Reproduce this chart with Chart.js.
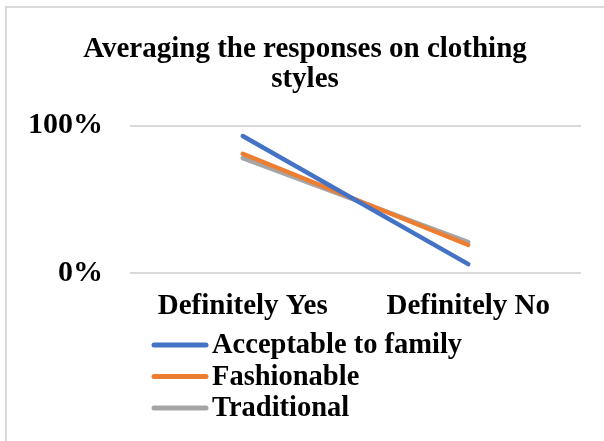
<!DOCTYPE html>
<html>
<head>
<meta charset="utf-8">
<script src="https://cdn.jsdelivr.net/npm/chart.js@4/dist/chart.umd.min.js"></script>
<style>
  html, body { margin: 0; padding: 0; background: #fff; }
  #wrap { position: relative; width: 604px; height: 441px; overflow: hidden; }
  #frame { position: absolute; left: 5px; top: 6px; width: 700px; height: 500px;
           border-left: 2px solid #d9d9d9; border-top: 2px solid #d9d9d9; }
  canvas { position: absolute; left: 0; top: 0; }
</style>
</head>
<body>
<div id="wrap">
  <div id="frame"></div>
  <canvas id="chart" width="604" height="441"></canvas>
</div>
<script>
// Data
const categories = ['Definitely Yes', 'Definitely No'];
const acceptable = [0.93, 0.06];
const fashionable = [0.81, 0.19];
const traditional = [0.78, 0.21];
const yTicks = [0, 1];

const serif = '"Liberation Serif", "Times New Roman", serif';

// draws the legend as a vertical list below the axis
const stackedLegend = {
  id: 'stackedLegend',
  afterLayout(chart) {
    // title is centred on the whole frame, not on the padded box
    if (chart.titleBlock) chart.titleBlock.left = 29;
  },
  afterDraw(chart) {
    const ctx = chart.ctx;
    ctx.save();
    ctx.font = 'bold 28.5px ' + serif;
    ctx.textBaseline = 'middle';
    ctx.fillStyle = '#000';
    chart.data.datasets.forEach((ds, i) => {
      const y = 345 + i * 31.5;
      ctx.strokeStyle = ds.borderColor;
      ctx.lineWidth = 5;
      ctx.lineCap = 'round';
      ctx.beginPath();
      ctx.moveTo(154, y);
      ctx.lineTo(206, y);
      ctx.stroke();
      ctx.fillText(ds.label, 212, y + 1);
    });
    ctx.restore();
  }
};

new Chart(document.getElementById('chart'), {
  type: 'line',
  data: {
    labels: categories,
    datasets: [
      { label: 'Acceptable to family', data: acceptable, borderColor: '#4472C4' },
      { label: 'Fashionable', data: fashionable, borderColor: '#ED7D31' },
      { label: 'Traditional', data: traditional, borderColor: '#A5A5A5' }
    ]
  },
  options: {
    responsive: false,
    animation: false,
    layout: { padding: { left: 0, right: 23, top: 0, bottom: 121 } },
    elements: {
      line: { borderWidth: 4.5, borderCapStyle: 'round', tension: 0 },
      point: { radius: 0 }
    },
    plugins: {
      legend: { display: false },
      tooltip: { enabled: false },
      title: {
        display: true,
        text: ['Averaging the responses on clothing', 'styles'],
        color: '#000',
        font: { family: serif, size: 29, weight: 'bold', lineHeight: 1.03 },
        padding: { top: 35, bottom: 31 }
      }
    },
    scales: {
      x: {
        offset: true,
        afterFit: (scale) => { scale.height = 47; },
        grid: { display: false },
        border: { display: false },
        ticks: {
          color: '#000',
          padding: 8,
          maxRotation: 0,
          font: { family: serif, size: 29, weight: 'bold' }
        }
      },
      y: {
        min: 0,
        max: 1,
        afterBuildTicks: (scale) => { scale.ticks = yTicks.map(v => ({ value: v })); },
        afterFit: (scale) => { scale.width = 130; },
        grid: { color: '#d9d9d9', lineWidth: 2, drawTicks: false },
        border: { display: false },
        ticks: {
          color: '#000',
          padding: 27,
          font: { family: serif, size: 30, weight: 'bold' },
          callback: (v) => Math.round(v * 100) + '%'
        }
      }
    }
  },
  plugins: [stackedLegend]
});
</script>
</body>
</html>
